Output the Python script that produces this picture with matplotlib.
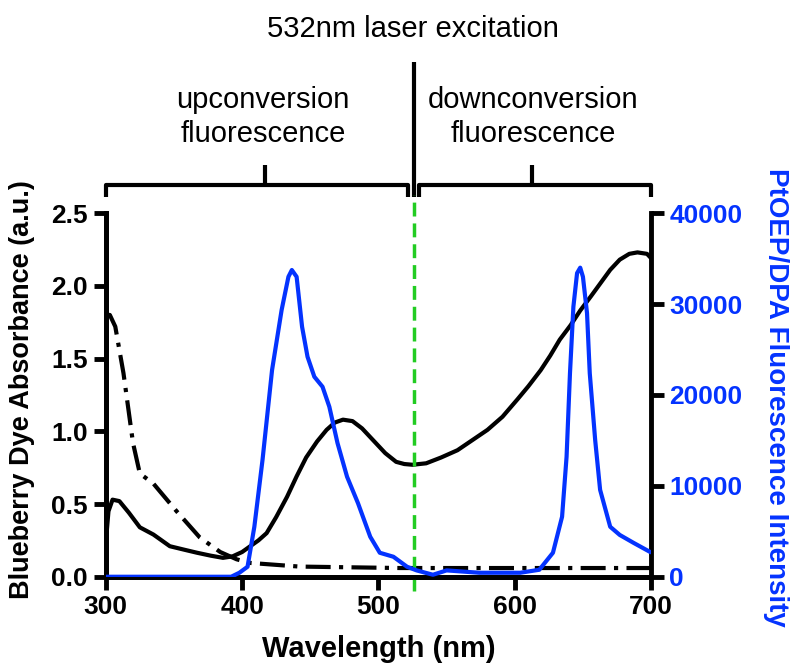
"""Blueberry dye absorbance vs PtOEP/DPA fluorescence"""

import matplotlib
matplotlib.use('Agg')
from matplotlib import pyplot as plt
import matplotlib.transforms as mtransforms

plt.rcParams['font.family'] = ['Liberation Sans', 'DejaVu Sans']

# absorbance of blueberry dye (solid)
abs_nm = [300, 302, 305, 310, 317, 325, 335, 347, 358, 367, 377, 386, 393, 400, 406, 412, 418, 425, 433,
          440, 447, 455, 462, 468, 474, 481, 488, 496, 505, 513, 519, 525, 535, 546, 558, 569, 580, 591,
          602, 610, 619, 626, 633, 641, 648, 656, 663, 670, 677, 684, 690, 697, 700]
abs_val = [0.23, 0.45, 0.53, 0.52, 0.44, 0.34, 0.29, 0.21, 0.185, 0.165, 0.145, 0.13, 0.14, 0.17, 0.21,
           0.25, 0.30, 0.41, 0.55, 0.69, 0.82, 0.93, 1.01, 1.06, 1.08, 1.07, 1.02, 0.94, 0.85, 0.79, 0.775,
           0.77, 0.78, 0.82, 0.87, 0.94, 1.01, 1.10, 1.22, 1.31, 1.42, 1.52, 1.63, 1.73, 1.83, 1.93, 2.02,
           2.11, 2.18, 2.22, 2.23, 2.22, 2.19]

# absorbance (dash-dot)
abs2_nm = [300, 303, 307, 313, 320, 325, 335, 352, 369, 384, 396, 406, 442, 516, 600, 700]
abs2_val = [1.80, 1.80, 1.72, 1.40, 0.92, 0.71, 0.64, 0.45, 0.27, 0.17, 0.12, 0.095, 0.07, 0.06, 0.06, 0.06]

# PtOEP/DPA fluorescence (right axis)
fl_nm = [300, 392, 398, 404, 409, 415, 422, 429, 434, 436.5, 440, 444, 448, 453, 459, 464, 470, 477,
         485, 494, 501, 511, 521, 528, 540, 550, 574, 604, 618, 628, 634.7, 638, 640.5, 643, 645.7, 648,
         650, 653, 655, 659, 662.6, 670, 677, 687, 699, 700]
fl_val = [0, 0, 440, 1100, 5500, 12860, 22750, 29340, 33000, 33740, 33000, 27500, 24200, 22000, 20900,
          18700, 14700, 11000, 8100, 4400, 2640, 2200, 1100, 700, 220, 700, 440, 440, 770, 2640, 6600,
          13200, 22400, 29700, 33400, 34000, 33000, 29000, 22400, 15000, 9560, 5500, 4600, 3740, 2750, 2700]

laser_nm = 526
x_ticks = [300, 400, 500, 600, 700]
y_ticks = [0.0, 0.5, 1.0, 1.5, 2.0, 2.5]
y2_ticks = [0, 10000, 20000, 30000, 40000]

blue = '#0433ff'
green = '#22cc22'

fig = plt.figure(figsize=(7.95, 6.66), dpi=100)
ax = fig.add_axes([0.133, 0.134, 0.686, 0.546])
ax2 = ax.twinx()

ax.plot(abs_nm, abs_val, color='black', lw=3, solid_capstyle='round', zorder=3)
ax.plot(abs2_nm, abs2_val, color='black', lw=3, linestyle=(0, (6, 2, 1, 2)), zorder=3)
ax2.plot(fl_nm, fl_val, color=blue, lw=3, solid_joinstyle='round', zorder=3)
ax.axvline(laser_nm, ymin=-0.04, ymax=1.05, color=green, lw=2.5, linestyle=(0, (4, 2)), clip_on=False, zorder=4)

ax.set_xlim(300, 700)
ax.set_ylim(0, 2.5)
ax2.set_ylim(0, 40000)
ax.set_xticks(x_ticks)
ax.set_yticks(y_ticks)
ax.set_yticklabels(['%.1f' % v for v in y_ticks])
ax2.set_yticks(y2_ticks)

for a in (ax, ax2):
    a.spines['top'].set_visible(False)
    for s in a.spines.values():
        s.set_linewidth(3.5)
ax.spines['right'].set_visible(False)
ax.tick_params(width=3.5, length=9, labelsize=19, pad=4)
ax2.tick_params(width=3.5, length=9, labelsize=19, pad=4, labelcolor=blue, color='black')
for lab in ax.get_xticklabels() + ax.get_yticklabels() + ax2.get_yticklabels():
    lab.set_fontweight('bold')

ax.set_xlabel('Wavelength (nm)', fontsize=21, fontweight='bold', labelpad=12)
fig.text(0.028, 1 - 390 / 666, 'Blueberry Dye Absorbance (a.u.)', rotation=90, ha='center', va='center',
         fontsize=19.5, fontweight='bold')
fig.text(0.976, 1 - 397 / 666, 'PtOEP/DPA Fluorescence Intensity', rotation=-90, ha='center', va='center',
         fontsize=20, fontweight='bold', color=blue)

# brackets above the plot
tr = mtransforms.blended_transform_factory(ax.transData, ax.transAxes)
kw = dict(color='black', lw=3, transform=tr, clip_on=False, solid_capstyle='butt')
ax.plot([300, 300, 522, 522], [1.044, 1.077, 1.077, 1.044], **kw)
ax.plot([417, 417], [1.077, 1.132], **kw)
ax.plot([530, 530, 700, 700], [1.044, 1.077, 1.077, 1.044], **kw)
ax.plot([613, 613], [1.077, 1.132], **kw)
ax.plot([laser_nm, laser_nm], [1.044, 1.415], **kw)

fig.text(413 / 795, 1 - 29 / 666, '532nm laser excitation', ha='center', va='center', fontsize=21)
fig.text(263 / 795, 1 - 117 / 666, 'upconversion\nfluorescence', ha='center', va='center', fontsize=21,
         linespacing=1.3)
fig.text(533 / 795, 1 - 117 / 666, 'downconversion\nfluorescence', ha='center', va='center', fontsize=21,
         linespacing=1.3)

fig.savefig('out.png', dpi=100)
